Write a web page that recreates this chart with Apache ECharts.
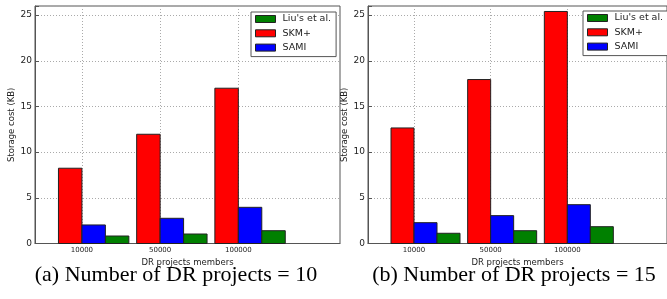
<!DOCTYPE html>
<html>
<head>
<meta charset="utf-8">
<script src="https://cdn.jsdelivr.net/npm/echarts@6/dist/echarts.min.js"></script>
<style>
html, body { margin: 0; padding: 0; background: #fff; }
#main { width: 667px; height: 299px; }
</style>
</head>
<body>
<div id="main"></div>
<script>
//////////// data //////////////////
var members = ['10000', '50000', '100000'];
var seriesNames = ["Liu's et al.", 'SKM+', 'SAMI'];
var yTicks = [0, 5, 10, 15, 20, 25];

// (a) 10 DR projects
var skmA = [8.24, 11.96, 17.0];
var samiA = [2.03, 2.76, 3.96];
var liuA = [0.82, 1.04, 1.40];

// (b) 15 DR projects
var skmB = [12.65, 17.95, 25.4];
var samiB = [2.28, 3.05, 4.25];
var liuB = [1.12, 1.40, 1.84];

var captions = ['(a) Number of DR projects = 10', '(b) Number of DR projects = 15'];

//////////// helpers //////////////////
var barW = 0.3;
function barRender(offset) {
    return function (params, api) {
        var k = api.value(0), v = api.value(1);
        var p0 = api.coord([k + offset, v]);
        var p1 = api.coord([k + offset + barW, 0]);
        return {
            type: 'rect',
            shape: { x: p0[0], y: p0[1], width: p1[0] - p0[0], height: p1[1] - p0[1] },
            style: api.style({ stroke: '#222', lineWidth: 1 })
        };
    };
}
function pairs(arr) {
    return arr.map(function (v, i) { return [i, v]; });
}
var colors = { "Liu's et al.": '#008000', 'SKM+': '#ff0000', 'SAMI': '#0000ff' };

function xAxisFor(gi) {
    return {
        type: 'value', gridIndex: gi, min: -0.6, max: 3.3,
        name: 'DR projects members', nameLocation: 'middle', nameGap: 10,
        nameTextStyle: { fontFamily: 'DejaVu Sans', fontSize: 8.5, color: '#222' },
        axisLine: { show: true, onZero: false, lineStyle: { color: '#555' } },
        axisTick: { show: true, inside: true, length: 4, customValues: [0, 1, 2], lineStyle: { color: '#555' } },
        axisLabel: {
            customValues: [0, 1, 2], margin: 3,
            fontFamily: 'DejaVu Sans', fontSize: 7, color: '#222',
            formatter: function (v) { return members[Math.round(v)]; }
        },
        splitLine: { show: true, lineStyle: { color: '#aaa', type: [1, 2], width: 1 } }
    };
}
function yAxisFor(gi) {
    return {
        type: 'value', gridIndex: gi, min: 0, max: 26, interval: 5,
        name: 'Storage cost (KB)', nameLocation: 'middle', nameGap: 11,
        nameTextStyle: { fontFamily: 'DejaVu Sans', fontSize: 8.5, color: '#222' },
        axisLine: { show: true, onZero: false, lineStyle: { color: '#555' } },
        axisTick: { show: true, inside: true, length: 4, lineStyle: { color: '#555' } },
        axisLabel: {
            margin: 3, fontFamily: 'DejaVu Sans', fontSize: 9, color: '#222',
            formatter: function (v) { return yTicks.indexOf(v) >= 0 ? String(v) : ''; }
        },
        splitLine: { show: true, lineStyle: { color: '#aaa', type: [1, 2], width: 1 } }
    };
}
function seriesFor(gi, skm, sami, liu) {
    return [
        { name: 'SKM+', type: 'custom', xAxisIndex: gi, yAxisIndex: gi, renderItem: barRender(-0.3),
          itemStyle: { color: colors['SKM+'] }, data: pairs(skm) },
        { name: 'SAMI', type: 'custom', xAxisIndex: gi, yAxisIndex: gi, renderItem: barRender(0),
          itemStyle: { color: colors['SAMI'] }, data: pairs(sami) },
        { name: "Liu's et al.", type: 'custom', xAxisIndex: gi, yAxisIndex: gi, renderItem: barRender(0.3),
          itemStyle: { color: colors["Liu's et al."] }, data: pairs(liu) }
    ];
}
function legendFor(left, top) {
    return {
        orient: 'vertical', left: left, top: top,
        data: seriesNames.map(function (n) {
            return { name: n, icon: 'rect', itemStyle: { color: colors[n], borderColor: '#222', borderWidth: 1 } };
        }),
        itemWidth: 20, itemHeight: 7, itemGap: 4.3,
        padding: [2, 5, 4, 4],
        backgroundColor: '#fff', borderColor: '#555', borderWidth: 1,
        selectedMode: false,
        textStyle: { fontFamily: 'DejaVu Sans', fontSize: 9.5, color: '#222', lineHeight: 10, padding: [0, 0, 0, 2] }
    };
}

//////////// chart //////////////////
var chart = echarts.init(document.getElementById('main'));
var option = {
    backgroundColor: '#FFFFFF',
    animation: false,
    grid: [
        { left: 35, top: 6, width: 305, bottom: 55.5, show: true, borderColor: '#555', borderWidth: 1 },
        { left: 368, top: 6, width: 305, bottom: 55.5, show: true, borderColor: '#555', borderWidth: 1 }
    ],
    legend: [legendFor(251, 12), legendFor(583, 11)],
    xAxis: [xAxisFor(0), xAxisFor(1)],
    yAxis: [yAxisFor(0), yAxisFor(1)],
    series: seriesFor(0, skmA, samiA, liuA).concat(seriesFor(1, skmB, samiB, liuB)),
    graphic: [
        { type: 'text', x: 176, y: 275, style: { text: captions[0], textAlign: 'center', textVerticalAlign: 'middle',
          fontFamily: 'Liberation Serif', fontSize: 22, fill: '#000' } },
        { type: 'text', x: 514, y: 275, style: { text: captions[1], textAlign: 'center', textVerticalAlign: 'middle',
          fontFamily: 'Liberation Serif', fontSize: 22, fill: '#000' } }
    ]
};
chart.setOption(option);
</script>
</body>
</html>
